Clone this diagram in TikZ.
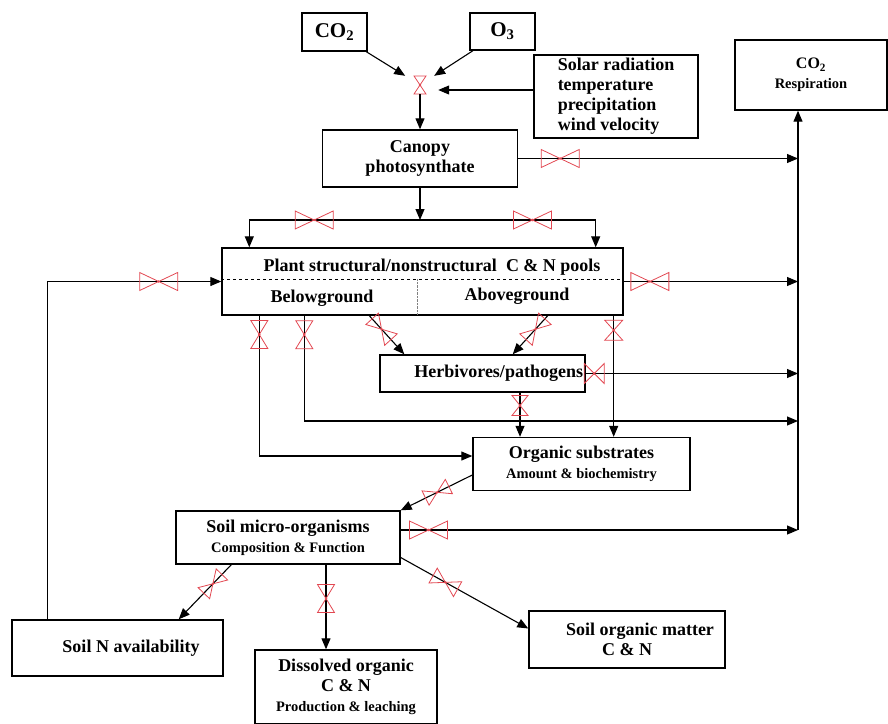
\documentclass[tikz,border=0pt]{standalone}
\usepackage{fontspec}
\setmainfont{Liberation Serif}
\usetikzlibrary{arrows.meta}
\definecolor{valvered}{RGB}{226,72,82}
\newcommand{\boxfont}{\fontsize{18}{20}\selectfont\bfseries}
\newcommand{\notefont}{\fontsize{14.5}{18}\selectfont\bfseries}
\newcommand{\gasfont}{\fontsize{21}{24}\selectfont\bfseries}

\begin{document}
\begin{tikzpicture}
[
	x=1pt, y=-1pt,
	>={Triangle[length=11pt,width=9pt]},
	flow/.style = {draw, line width=1.1pt, ->},
	box/.style = {draw, line width=1.4pt, inner sep=0pt, align=center, font=\boxfont},
	valveline/.style = {draw=valvered, line width=0.8pt, -},
	pics/valve/.style 2 args = {code={
		\draw[valveline] (0,0) -- (-#1,#2) -- (-#1,-#2) -- cycle (0,0) -- (#1,#2) -- (#1,-#2) -- cycle;
		\fill[valvered] (0,0) circle (1.3pt);
	}},
]
\useasboundingbox (0,0) rectangle (888,723);

\node[box, font=\gasfont, minimum width=65pt, minimum height=38pt] (co2) at (334.5,32) {CO\textsubscript{2}};
\node[box, font=\gasfont, minimum width=65pt, minimum height=37pt] (o3) at (502.5,31.5) {O\textsubscript{3}};
\node[box, align=left, minimum width=164pt, minimum height=83pt] (climate) at (616,96.5) {Solar radiation\\temperature\\precipitation\\wind velocity};
\node[box, minimum width=152pt, minimum height=70pt] (resp) at (811,75) {{\fontsize{16}{18}\selectfont CO\textsubscript{2}}\\{\notefont Respiration}};
\node[minimum width=36pt, minimum height=18pt, inner sep=0pt] (v0) at (420,85) {};
\pic[rotate=90] at (v0) {valve={9}{6}};
\node[box, minimum width=195pt, minimum height=57pt] (canopy) at (420,158.5) {Canopy\\photosynthate};

\node[box, minimum width=401pt, minimum height=67pt] (plant) at (422.5,281.5) {};
\draw[dashed, line width=1pt] ([yshift=2.5pt]plant.west) -- ([yshift=2.5pt]plant.east);
\draw[densely dotted, gray] (417,279) -- (417,315);
\node[font=\boxfont] (ptitle) at (432,267) {Plant structural/nonstructural~ C \& N pools};
\node[font=\boxfont] (below) at (322,298) {Belowground};
\node[font=\boxfont] (above) at (517,296) {Aboveground};

\node[box, text width=201pt, inner xsep=2pt, align=right, minimum height=37pt] (herb) at (482.5,373.5) {Herbivores/pathogens};
\node[box, minimum width=217pt, minimum height=53pt] (organic) at (581.5,464) {Organic substrates\\{\notefont Amount \& biochemistry}};
\node[box, minimum width=224pt, minimum height=53pt] (soilmicro) at (288,537.5) {Soil micro-organisms\\{\notefont Composition \& Function}};
\node[box, minimum width=211pt, minimum height=56pt] (soilN) at (117.5,648) {\hspace*{27pt}Soil N availability};
\node[box, minimum width=182pt, minimum height=74pt] (dissolved) at (346,687) {Dissolved organic\\C \& N\\{\notefont Production \& leaching}};
\node[box, minimum width=196pt, minimum height=57pt] (som) at (627,639.5) {\hspace*{26pt}Soil organic matter\\C \& N};

\coordinate (trunk) at (798,530);
\coordinate (rootsink) at (798,421);
\coordinate (split) at (420,220);
\coordinate (v0gap) at ([yshift=-5pt]v0.east);
\coordinate (herbout) at ([xshift=37.5pt]herb.south);
\coordinate (shootout) at ([xshift=-10pt]plant.south east);
\coordinate (docout) at ([xshift=38pt]soilmicro.south);

\draw[flow] (co2) -- (v0);
\draw[flow] (o3) -- (v0);
\draw[flow] (climate.west |- v0gap) -- (v0gap);
\draw[flow] (v0.south) -- (canopy.north);
\draw[flow] (canopy.east) -- pic[pos=0.15, sloped]{valve={19}{9}} (canopy.east -| trunk);
\draw[flow] (trunk) -- (resp.south -| trunk);

\draw[flow] (canopy.south) -- (split);
\draw[flow] (split) -| pic[pos=0.31, sloped]{valve={19}{9}} ([xshift=28pt]plant.north west);
\draw[flow] (split) -| pic[pos=0.32, sloped]{valve={19}{9}} ([xshift=-28pt]plant.north east);
\draw[flow] ([xshift=36pt]soilN.north west) |- pic[pos=0.82, sloped]{valve={19}{9}} (plant.west);
\draw[flow] (plant.east) -- pic[pos=0.15, sloped]{valve={19}{9}} (plant.east -| trunk);

\draw[flow] ([xshift=38pt]plant.south west) |- pic[pos=0.067, sloped]{valve={14}{8.5}} ([yshift=8pt]organic.west);
\draw[flow] ([xshift=83pt]plant.south west) |- pic[pos=0.09, sloped]{valve={14}{8.5}} (rootsink);
\draw[flow] ([xshift=148pt]plant.south west) -- pic[pos=0.35, sloped]{valve={14}{8.5}} ([xshift=25pt]herb.north west);
\draw[flow] ([xshift=-76pt]plant.south east) -- pic[pos=0.35, sloped]{valve={14}{8.5}} ([xshift=-73pt]herb.north east);
\draw[flow] (shootout) -- pic[pos=0.12, sloped]{valve={10}{9}} (shootout |- organic.north);

\draw[flow] (herb.east) -- pic[pos=0.04, sloped]{valve={10}{10}} (herb.east -| trunk);
\draw[flow] (herbout) -- pic[pos=0.29, sloped]{valve={10}{8}} (herbout |- organic.north);
\draw[flow] ([yshift=-11pt]organic.west) -- pic[pos=0.49, sloped]{valve={13}{8}} (soilmicro.north east);

\draw[flow] ([yshift=7.5pt]soilmicro.east) -- pic[pos=0.07, sloped]{valve={19}{9}} (trunk);
\draw[flow] ([xshift=56pt]soilmicro.south west) -- pic[pos=0.35, sloped]{valve={13}{8}} ([xshift=-45pt]soilN.north east);
\draw[flow] (docout) -- pic[pos=0.4, sloped]{valve={14}{8.5}} (docout |- dissolved.north);
\draw[flow] ([yshift=-20pt]soilmicro.east) -- pic[pos=0.35, sloped]{valve={14}{8.5}} ([yshift=11pt]som.west);
\end{tikzpicture}
\end{document}
